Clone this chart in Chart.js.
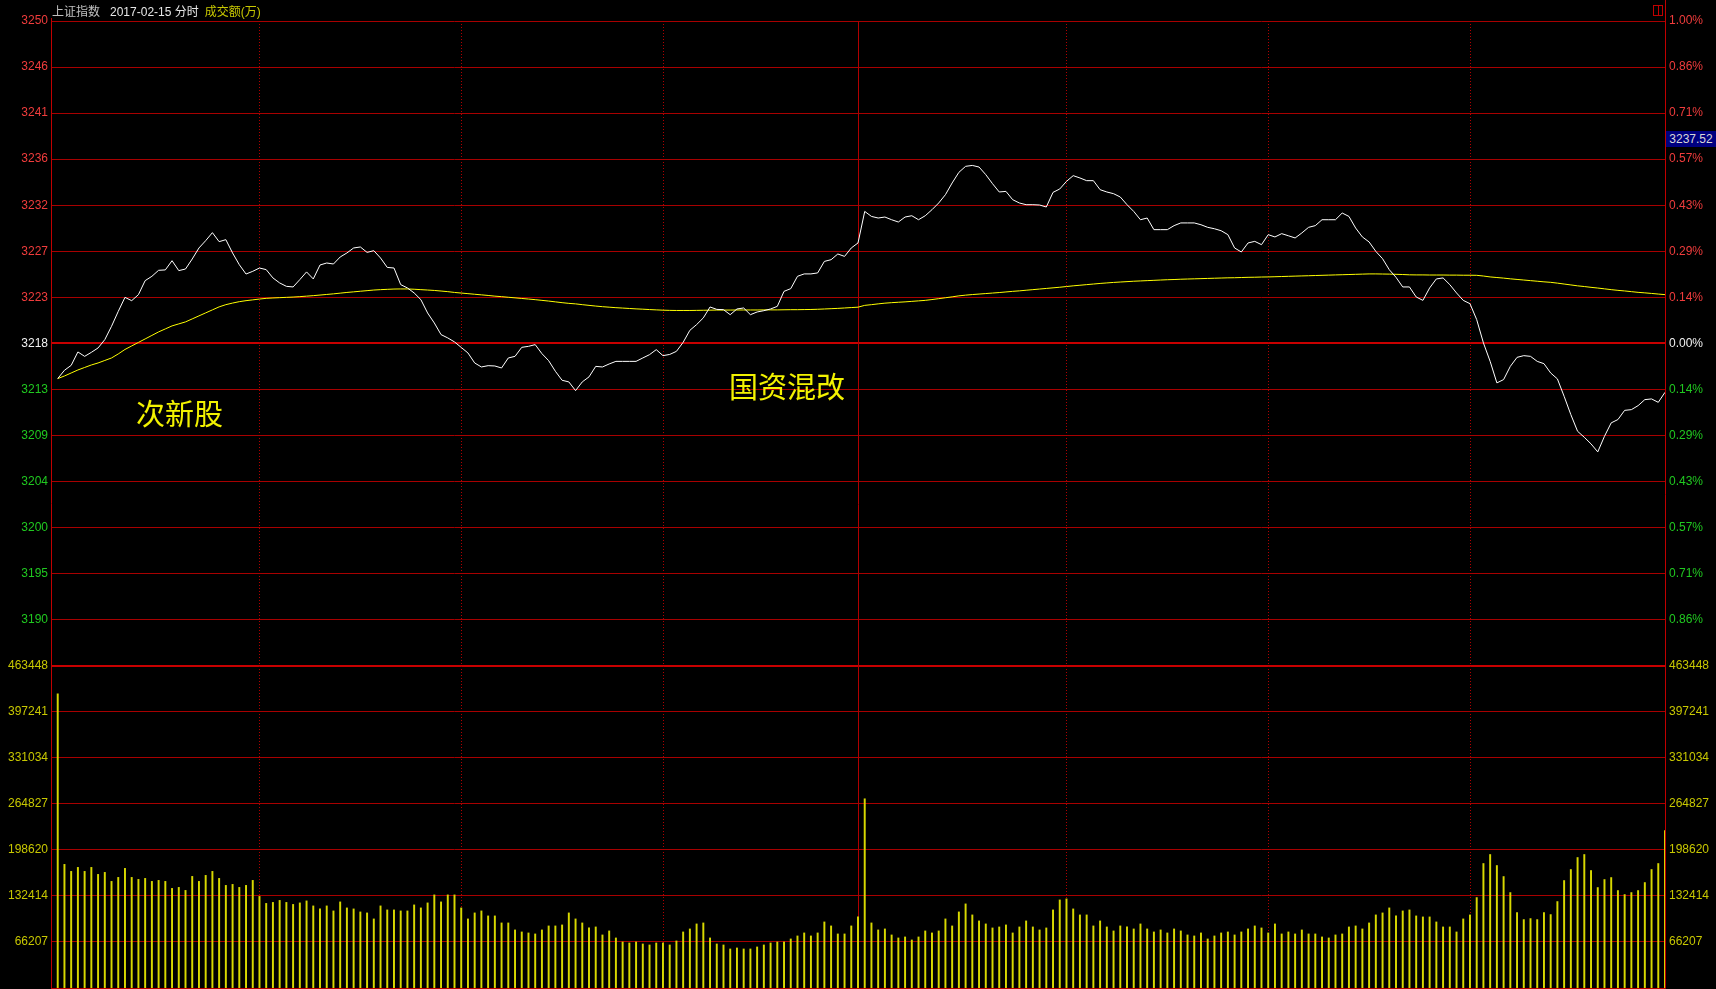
<!DOCTYPE html>
<html>
<head>
<meta charset="utf-8">
<title>上证指数 2017-02-15 分时</title>
<script src="https://cdn.jsdelivr.net/npm/chart.js@4.4.1/dist/chart.umd.min.js"></script>
<style>
  html, body { margin: 0; padding: 0; background: #000; overflow: hidden; }
  #wrap { position: relative; width: 1716px; height: 989px; background: #000; }
  #grafico { position: absolute; left: 0; top: 0; }
  .txt { position: absolute; white-space: nowrap; }
  #titulo { left: 52px; top: 5px; font: 12px/14px "Liberation Sans", "Noto Sans CJK SC", sans-serif; }
  .anot { font: 29px/29px "Noto Sans CJK SC", sans-serif; color: #f2f200; }
  #precoAtual { left: 1666px; top: 131px; width: 50px; height: 16px; background: #000080;
    color: #d8d8d8; font: 12px/16px "Liberation Sans", sans-serif; text-align: center; }
  #icone { position: absolute; left: 1653px; top: 5px; width: 8px; height: 9px; border: 1px solid #c00000; }
  #icone div { position: absolute; left: 4px; top: 0; width: 1px; height: 9px; background: #c00000; }
</style>
</head>
<body>
<div id="wrap">
  <canvas id="grafico" width="1716" height="989"></canvas>
  <div class="txt" id="titulo"><span style="color:#c0c0c0">上证指数</span><span style="color:#e6e6e6;margin-left:10px">2017-02-15 分时</span><span style="color:#c8c800;margin-left:6px">成交额(万)</span></div>
  <div class="txt anot" style="left:136px;top:398px">次新股</div>
  <div class="txt anot" style="left:729px;top:371px">国资混改</div>
  <div class="txt" id="precoAtual">3237.52</div>
  <div id="icone"><div></div></div>
</div>
<script>
// dados (240 minutos)
const fechamento = 3217.96   // fechamento anterior = linha 0.00%

const precoLabels = ['3250', '3246', '3241', '3236', '3232', '3227', '3223', '3218', '3213', '3209', '3204', '3200', '3195', '3190']
const pctLabels = ['1.00%', '0.86%', '0.71%', '0.57%', '0.43%', '0.29%', '0.14%', '0.00%', '0.14%', '0.29%', '0.43%', '0.57%', '0.71%', '0.86%']
const volLabels = ['463448', '397241', '331034', '264827', '198620', '132414', '66207']
const volTopo = 463448

const linhasTempo = [30, 60, 90, 119, 150, 180, 210]
const linhaMeio = 119

const preco = [
  3214.44, 3215.27, 3215.76, 3217.10, 3216.66, 3217.06, 3217.50, 3218.33, 3219.66, 3221.15,
  3222.55, 3222.22, 3222.82, 3224.22, 3224.65, 3225.25, 3225.29, 3226.21, 3225.22, 3225.38,
  3226.38, 3227.48, 3228.21, 3229.01, 3228.11, 3228.31, 3226.98, 3225.81, 3224.88, 3225.15,
  3225.48, 3225.32, 3224.49, 3223.99, 3223.65, 3223.59, 3224.32, 3225.09, 3224.39, 3225.78,
  3225.98, 3225.88, 3226.58, 3226.98, 3227.48, 3227.58, 3227.04, 3227.21, 3226.48, 3225.54,
  3225.48, 3223.82, 3223.49, 3222.99, 3222.32, 3220.99, 3219.99, 3218.83, 3218.50, 3218.10,
  3217.55, 3217.00, 3216.00, 3215.60, 3215.73, 3215.70, 3215.50, 3216.50, 3216.66, 3217.56,
  3217.66, 3217.83, 3216.93, 3216.23, 3215.17, 3214.27, 3214.11, 3213.24, 3214.11, 3214.61,
  3215.66, 3215.60, 3215.90, 3216.16, 3216.16, 3216.16, 3216.16, 3216.50, 3216.83, 3217.33,
  3216.73, 3216.85, 3217.16, 3218.06, 3219.26, 3219.83, 3220.50, 3221.59, 3221.35, 3221.32,
  3220.82, 3221.39, 3221.49, 3220.82, 3221.09, 3221.22, 3221.39, 3221.65, 3223.15, 3223.42,
  3224.65, 3224.89, 3224.89, 3224.99, 3226.14, 3226.31, 3226.88, 3226.64, 3227.48, 3227.98,
  3231.13, 3230.63, 3230.47, 3230.57, 3230.30, 3230.07, 3230.57, 3230.70, 3230.30, 3230.70,
  3231.30, 3231.97, 3232.80, 3233.97, 3235.03, 3235.63, 3235.72, 3235.56, 3234.80, 3233.90,
  3233.07, 3233.13, 3232.30, 3231.97, 3231.80, 3231.80, 3231.77, 3231.57, 3233.03, 3233.37,
  3234.13, 3234.70, 3234.47, 3234.20, 3234.20, 3233.30, 3233.07, 3232.90, 3232.57, 3231.80,
  3231.13, 3230.30, 3230.47, 3229.31, 3229.31, 3229.31, 3229.71, 3229.98, 3229.98, 3229.98,
  3229.80, 3229.54, 3229.40, 3229.20, 3228.81, 3227.48, 3227.08, 3227.98, 3228.14, 3227.81,
  3228.81, 3228.58, 3228.91, 3228.70, 3228.48, 3228.98, 3229.54, 3229.71, 3230.30, 3230.30,
  3230.30, 3230.97, 3230.63, 3229.47, 3228.58, 3228.08, 3227.14, 3226.41, 3225.31, 3224.55,
  3223.59, 3223.59, 3222.59, 3222.25, 3223.49, 3224.39, 3224.49, 3223.82, 3222.99, 3222.25,
  3221.92, 3220.33, 3218.00, 3216.16, 3214.01, 3214.34, 3215.66, 3216.56, 3216.73, 3216.66,
  3216.16, 3215.93, 3215.00, 3214.41, 3212.67, 3210.84, 3209.18, 3208.58, 3207.92, 3207.12,
  3208.68, 3210.02, 3210.35, 3211.27, 3211.34, 3211.74, 3212.34, 3212.41, 3212.07, 3213.07
]

const media = [
  3214.44, 3214.70, 3215.00, 3215.30, 3215.55, 3215.80, 3216.00, 3216.25, 3216.50, 3216.90,
  3217.35, 3217.70, 3218.05, 3218.40, 3218.75, 3219.10, 3219.40, 3219.70, 3219.90, 3220.10,
  3220.40, 3220.70, 3221.00, 3221.30, 3221.60, 3221.82, 3221.98, 3222.12, 3222.22, 3222.30,
  3222.38, 3222.45, 3222.49, 3222.52, 3222.55, 3222.58, 3222.62, 3222.67, 3222.72, 3222.78,
  3222.84, 3222.90, 3222.97, 3223.04, 3223.10, 3223.16, 3223.22, 3223.28, 3223.32, 3223.35,
  3223.38, 3223.39, 3223.39, 3223.36, 3223.32, 3223.28, 3223.24, 3223.18, 3223.12, 3223.04,
  3222.98, 3222.92, 3222.86, 3222.80, 3222.74, 3222.67, 3222.62, 3222.56, 3222.50, 3222.44,
  3222.38, 3222.32, 3222.25, 3222.18, 3222.10, 3222.02, 3221.95, 3221.90, 3221.82, 3221.75,
  3221.68, 3221.62, 3221.57, 3221.52, 3221.48, 3221.44, 3221.40, 3221.37, 3221.33, 3221.30,
  3221.27, 3221.25, 3221.24, 3221.24, 3221.24, 3221.25, 3221.26, 3221.27, 3221.28, 3221.28,
  3221.28, 3221.29, 3221.29, 3221.29, 3221.29, 3221.30, 3221.30, 3221.30, 3221.31, 3221.32,
  3221.32, 3221.33, 3221.34, 3221.36, 3221.39, 3221.42, 3221.45, 3221.49, 3221.53, 3221.57,
  3221.75, 3221.82, 3221.90, 3221.97, 3222.02, 3222.06, 3222.10, 3222.15, 3222.20, 3222.25,
  3222.33, 3222.42, 3222.51, 3222.60, 3222.70, 3222.77, 3222.83, 3222.88, 3222.93, 3222.98,
  3223.03, 3223.09, 3223.15, 3223.20, 3223.26, 3223.32, 3223.38, 3223.44, 3223.50, 3223.56,
  3223.63, 3223.70, 3223.76, 3223.82, 3223.88, 3223.94, 3223.99, 3224.04, 3224.08, 3224.12,
  3224.16, 3224.19, 3224.22, 3224.25, 3224.28, 3224.31, 3224.33, 3224.36, 3224.38, 3224.40,
  3224.42, 3224.44, 3224.46, 3224.48, 3224.50, 3224.51, 3224.53, 3224.55, 3224.56, 3224.58,
  3224.59, 3224.61, 3224.63, 3224.65, 3224.67, 3224.69, 3224.71, 3224.73, 3224.75, 3224.77,
  3224.79, 3224.81, 3224.83, 3224.85, 3224.87, 3224.89, 3224.89, 3224.88, 3224.87, 3224.85,
  3224.83, 3224.80, 3224.79, 3224.79, 3224.78, 3224.78, 3224.78, 3224.77, 3224.77, 3224.76,
  3224.76, 3224.75, 3224.68, 3224.59, 3224.53, 3224.47, 3224.40, 3224.34, 3224.28, 3224.22,
  3224.16, 3224.10, 3224.05, 3223.97, 3223.88, 3223.79, 3223.70, 3223.63, 3223.55, 3223.48,
  3223.40, 3223.32, 3223.25, 3223.19, 3223.12, 3223.05, 3223.00, 3222.94, 3222.88, 3222.82
]

const volume = [
  422860, 177750, 167680, 173430, 167680, 173430, 163360, 166240, 153290, 159040,
  172000, 159040, 156160, 157600, 153290, 154730, 153290, 143210, 144650, 140330,
  160480, 153290, 161920, 167680, 157600, 147530, 148970, 144650, 147530, 154730,
  131700, 121620, 123060, 125940, 123060, 120180, 122350, 125230, 118030, 113710,
  118030, 110830, 123790, 115150, 113710, 109390, 107960, 99320, 118030, 112270,
  112270, 110830, 110830, 119470, 115150, 122350, 133860, 123790, 133860, 133860,
  115150, 99320, 107960, 110830, 103640, 103640, 93560, 93560, 83490, 80610,
  79170, 77730, 83490, 89240, 89240, 90680, 107960, 99320, 93560, 86360,
  87800, 76290, 82050, 71970, 66210, 64770, 66210, 63330, 61890, 64770,
  64770, 61890, 67650, 80610, 84920, 92120, 93560, 71970, 63330, 61890,
  56140, 57580, 56140, 56140, 59020, 61890, 64770, 66210, 66210, 70530,
  74850, 79170, 74850, 79170, 95000, 89240, 77730, 77730, 89240, 102200,
  272050, 93560, 83490, 84920, 76290, 71970, 73410, 69090, 73410, 82050,
  79170, 82050, 99320, 89240, 109390, 120910, 105080, 96440, 92120, 86360,
  87800, 90680, 79170, 87800, 96440, 87800, 83490, 86360, 112270, 126670,
  128110, 113710, 105080, 105080, 89240, 96440, 87800, 82050, 89240, 87800,
  84920, 92120, 84920, 80610, 83490, 79170, 84920, 82050, 76290, 74850,
  79170, 70530, 74850, 79170, 80610, 76290, 80610, 84920, 89240, 86360,
  79170, 92120, 77730, 80610, 77730, 83490, 77730, 77730, 73410, 71970,
  76290, 77730, 87800, 89240, 84920, 93560, 105080, 107960, 115150, 103640,
  110830, 112270, 103640, 102200, 102200, 95000, 87800, 87800, 80610, 99320,
  105080, 130030, 178970, 191920, 176090, 160250, 137220, 108430, 98360, 99800,
  98360, 108430, 105560, 124270, 154500, 170330, 187600, 191920, 168890, 144420,
  155940, 158810, 140100, 134340, 137220, 140100, 151620, 170330, 178970, 226470
]

// 21 faixas iguais: 14 para o preco (+-1%), 7 para o volume
const passo = fechamento * 0.01 / 7
const minPreco = fechamento - 14 * passo
const maxPreco = fechamento + 7 * passo

const faixas = []
for (let k = -14; k <= 7; k++) faixas.push(k)

function rotulo(index, lista) {
  const k = faixas[index]
  if (k >= -6) return lista[7 - k]
  if (k >= -13) return volLabels[-7 - k]
  return ''
}

function corRotulo(index) {
  const k = faixas[index]
  if (k > 0) return '#f03c3c'
  if (k === 0) return '#f0f0f0'
  if (k >= -6) return '#20c820'
  return '#c8c800'
}

function ajustarEixo(scale) {
  scale.width = 51
  scale.paddingTop = 0
  scale.paddingBottom = 0
}

function criarTicks(scale) {
  scale.ticks = faixas.map(k => ({ value: fechamento + k * passo }))
}

const fonteEixo = { family: 'Liberation Sans', size: 12 }

const moldura = {
  id: 'moldura',
  beforeDatasetsDraw(chart) {
    const { ctx, chartArea, scales } = chart
    ctx.save()
    ctx.lineWidth = 1
    ctx.strokeStyle = '#b00000'
    linhasTempo.forEach(t => {
      const px = Math.round(scales.x.getPixelForValue(t)) + 0.5
      ctx.setLineDash(t === linhaMeio ? [] : [1, 2])
      ctx.beginPath()
      ctx.moveTo(px, chartArea.top)
      ctx.lineTo(px, chartArea.bottom)
      ctx.stroke()
    })
    ctx.setLineDash([])
    ctx.strokeStyle = '#c00000'
    ctx.beginPath()
    ctx.moveTo(chartArea.left + 0.5, chartArea.top - 3)
    ctx.lineTo(chartArea.left + 0.5, chartArea.bottom + 0.5)
    ctx.lineTo(chartArea.right + 0.5, chartArea.bottom + 0.5)
    ctx.lineTo(chartArea.right + 0.5, 0)
    ctx.stroke()
    ctx.restore()
  }
}

const grafico = document.getElementById('grafico')

new Chart(grafico, {
  type: 'line',
  data: {
    datasets: [{
      label: '价格',
      data: preco.map((v, i) => ({ x: i, y: v })),
      yAxisID: 'yP',
      borderColor: '#ffffff',
      borderWidth: 1,
      pointRadius: 0,
      order: 0
    }, {
      label: '均价',
      data: media.map((v, i) => ({ x: i, y: v })),
      yAxisID: 'yP',
      borderColor: '#ffff00',
      borderWidth: 1,
      pointRadius: 0,
      order: 1
    }, {
      type: 'bar',
      label: '成交额',
      data: volume.map((v, i) => ({ x: i, y: v })),
      yAxisID: 'yV',
      backgroundColor: '#d8d800',
      barThickness: 1.3,
      order: 2
    }]
  },
  options: {
    responsive: false,
    animation: false,
    devicePixelRatio: 1,
    layout: { padding: { top: 21, bottom: 1, left: 0, right: 0 }, autoPadding: false },
    plugins: { legend: { display: false }, tooltip: { enabled: false } },
    scales: {
      x: { type: 'linear', min: -1, max: 239, offset: false, display: false },
      yP: {
        position: 'left',
        min: minPreco,
        max: maxPreco,
        afterBuildTicks: criarTicks,
        afterFit: ajustarEixo,
        border: { display: false },
        grid: {
          drawTicks: false,
          color: c => (faixas[c.index] === 0 || faixas[c.index] === -7) ? '#c80000' : '#a80000',
          lineWidth: c => (faixas[c.index] === 0 || faixas[c.index] === -7) ? 2 : 1
        },
        ticks: {
          autoSkip: false,
          padding: 3,
          font: fonteEixo,
          color: c => corRotulo(c.index),
          callback: (v, i) => rotulo(i, precoLabels)
        }
      },
      yPR: {
        position: 'right',
        min: minPreco,
        max: maxPreco,
        afterBuildTicks: criarTicks,
        afterFit: ajustarEixo,
        border: { display: false },
        grid: { display: false, drawTicks: false },
        ticks: {
          autoSkip: false,
          padding: 4,
          font: fonteEixo,
          color: c => corRotulo(c.index),
          callback: (v, i) => rotulo(i, pctLabels)
        }
      },
      yV: { display: false, min: 0, max: volTopo * 3 }
    }
  },
  plugins: [moldura]
})
</script>
</body>
</html>
